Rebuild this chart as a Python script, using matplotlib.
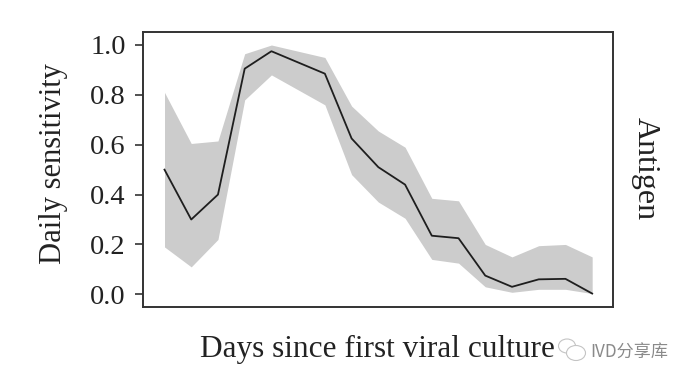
import matplotlib
matplotlib.use("Agg")
import matplotlib.pyplot as plt
from matplotlib.patches import Ellipse

days = list(range(17))
mean = [0.50, 0.30, 0.40, 0.905, 0.975, 0.93, 0.885, 0.625, 0.51, 0.44, 0.235, 0.225, 0.075, 0.03, 0.06, 0.062, 0.003]
upper = [0.81, 0.605, 0.615, 0.965, 1.0, 0.975, 0.95, 0.755, 0.655, 0.59, 0.385, 0.375, 0.2, 0.15, 0.195, 0.2, 0.15]
lower = [0.19, 0.11, 0.22, 0.78, 0.88, 0.82, 0.76, 0.48, 0.37, 0.305, 0.14, 0.125, 0.03, 0.008, 0.02, 0.02, 0.003]
yticks = [0.0, 0.2, 0.4, 0.6, 0.8, 1.0]
xlabel = "Days since first viral culture"
ylabel = "Daily sensitivity"
side_label = "Antigen"
watermark = "IVD分享库"

W, H = 690, 383
fig = plt.figure(figsize=(W / 100, H / 100), dpi=100)
L, R, T, B = 142.5, 613, 32.5, 306.5
ax = fig.add_axes([L / W, 1 - B / H, (R - L) / W, (B - T) / H])
ax.fill_between(days, lower, upper, color="#cccccc", lw=0)
ax.plot(days, mean, color="#1e1e1e", lw=1.3)

sx = 26.73
ax.set_xlim(-(164.5 - L) / sx, (R - 164.5) / sx)
sy = 249.3
ax.set_ylim(-(B - 294.3) / sy, (294.3 - T) / sy)
ax.set_xticks([])
ax.set_yticks(yticks, [f"{v:.1f}" for v in yticks], family="Liberation Serif", fontsize=20.5, color="#222222")
ax.tick_params(axis="y", length=5.5, width=1.2, color="#333333", pad=6.5)
for s in ax.spines.values():
    s.set_linewidth(1.4)
    s.set_color("#333333")

fig.text(377 / W, 1 - 349 / H, xlabel, family="Liberation Serif", fontsize=22.5, color="#222222", ha="center", va="center")
fig.text(54 / W, 1 - 164 / H, ylabel, family="Liberation Serif", fontsize=22, color="#222222", rotation=90, ha="center", va="center")
fig.text(645 / W, 1 - 169 / H, side_label, family="Liberation Serif", fontsize=23, color="#222222", rotation=270, ha="center", va="center")
fig.text(629 / W, 1 - 353 / H, watermark, family=["Noto Sans CJK SC", "DejaVu Sans"], fontsize=12.3, color="#8a8a8a", ha="center", va="center")
# faint watermark icon
for cx, cy, w, h in [(567, 346, 17, 14), (576, 353, 19, 15)]:
    fig.add_artist(Ellipse((cx / W, 1 - cy / H), w / W, h / H, transform=fig.transFigure,
                           facecolor="white", edgecolor="#c4c4c4", lw=0.8))
fig.savefig("out.png", dpi=100)
